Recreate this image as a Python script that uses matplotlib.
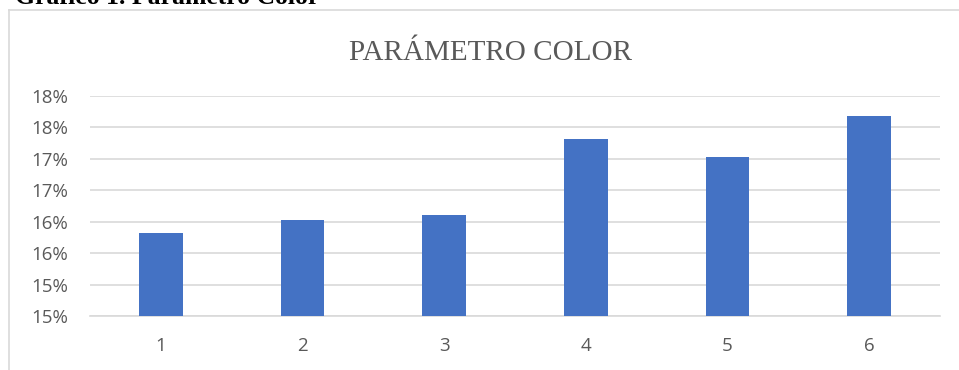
import matplotlib.pyplot as plt
from matplotlib.lines import Line2D
import numpy as np

# Data
categories = ["1", "2", "3", "4", "5", "6"]
values = [15.82, 16.03, 16.10, 17.32, 17.03, 17.67]
y_ticks = [14.5, 15.0, 15.5, 16.0, 16.5, 17.0, 17.5, 18.0]
y_labels = ["15%", "15%", "16%", "16%", "17%", "17%", "18%", "18%"]

bar_color = "#4472C4"
grid_color = "#D9D9D9"
text_color = "#595959"

fig = plt.figure(figsize=(9.59, 3.70), dpi=100)
ax = fig.add_axes([90 / 959, 54 / 370, 850 / 959, 220.3 / 370])

x = np.arange(len(categories))
ax.bar(x, values, width=0.31, color=bar_color, zorder=3)

ax.set_xlim(-0.5, len(categories) - 0.5)
ax.set_ylim(y_ticks[0], y_ticks[-1])
ax.set_xticks(x)
ax.set_xticklabels(categories)
ax.set_yticks(y_ticks)
ax.set_yticklabels(y_labels)

for lab in ax.get_yticklabels():
    lab.set_family("Open Sans")
    lab.set_fontsize(13.5)
    lab.set_color(text_color)
for lab in ax.get_xticklabels():
    lab.set_family("Open Sans")
    lab.set_fontsize(13.5)
    lab.set_color(text_color)
ax.tick_params(axis="both", length=0)
ax.tick_params(axis="y", pad=16)
ax.tick_params(axis="x", pad=15)

ax.grid(axis="y", color=grid_color, linewidth=1.2, zorder=0)
for side in ["top", "right", "left"]:
    ax.spines[side].set_visible(False)
ax.spines["bottom"].set_color(grid_color)
ax.spines["bottom"].set_linewidth(1.2)

# Chart title
fig.text(490 / 959, 1 - 53.5 / 370, "PARÁMETRO COLOR", ha="center", va="center",
         family="Liberation Serif", fontsize=21, color=text_color)

# Caption above the chart area (cut by the top edge)
fig.text(15 / 959, 1 - 4.5 / 370, "Gráfico 1. Parámetro Color", ha="left",
         va="baseline", family="Liberation Serif", fontweight="bold",
         fontsize=18.5, color="black")

# Chart frame (top and left edges)
fig.add_artist(Line2D([9 / 959, 1.0], [1 - 10 / 370, 1 - 10 / 370],
                      color=grid_color, linewidth=1.2, transform=fig.transFigure))
fig.add_artist(Line2D([9 / 959, 9 / 959], [0.0, 1 - 10 / 370],
                      color=grid_color, linewidth=1.2, transform=fig.transFigure))

plt.savefig("out.png", dpi=100)
plt.close()
